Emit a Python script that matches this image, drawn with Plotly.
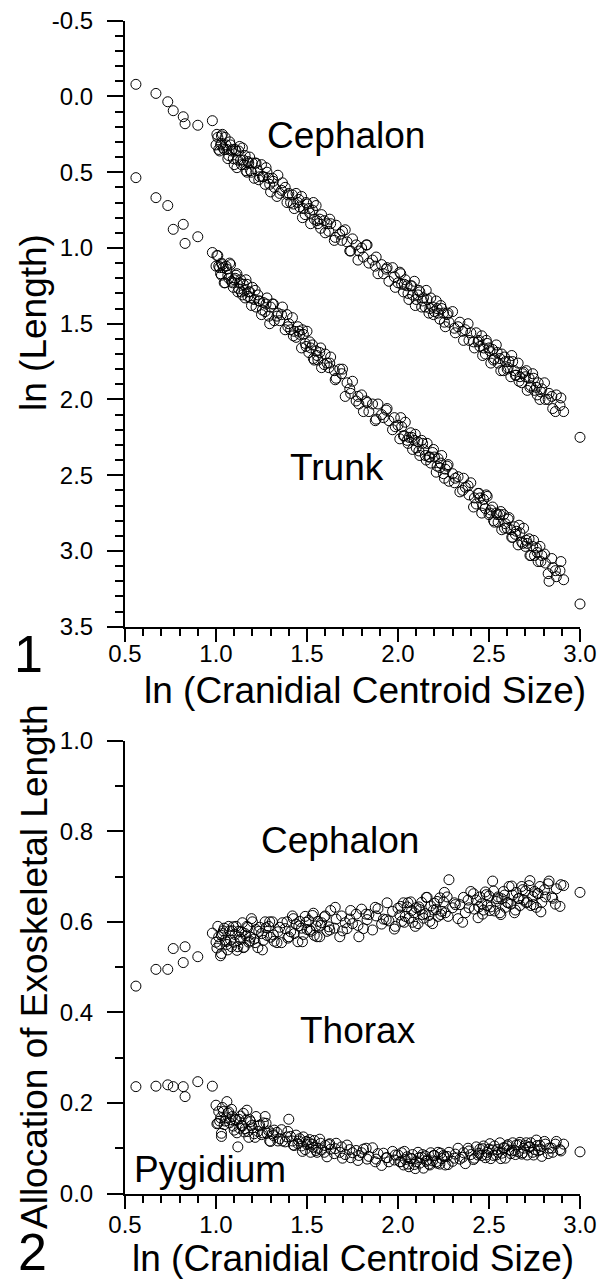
import plotly.graph_objects as go

# ---------------- data ----------------
ln_cs = [
    0.56, 0.67, 0.735, 0.765, 0.82, 0.83, 0.90, 0.98,
    1.00, 1.01, 1.02, 1.03, 1.03, 1.04, 1.05, 1.06, 1.07, 1.08,
    1.09, 1.10, 1.11, 1.12, 1.13, 1.14, 1.15, 1.16, 1.17, 1.18,
    1.19, 1.20, 1.21, 1.22, 1.23, 1.24, 1.25, 1.26, 1.27, 1.28,
    1.29, 1.30, 1.31, 1.32, 1.34, 1.35, 1.36, 1.38, 1.39, 1.40,
    1.41, 1.42, 1.43, 1.44, 1.45, 1.46, 1.47, 1.48, 1.49, 1.50,
    1.51, 1.52, 1.53, 1.54, 1.55, 1.56, 1.57, 1.58, 1.60, 1.61,
    1.62, 1.63, 1.65, 1.66, 1.68, 1.69, 1.71, 1.72, 1.74, 1.75,
    1.77, 1.78, 1.80, 1.81, 1.83, 1.84, 1.86, 1.88, 1.89, 1.91,
    1.92, 1.94, 1.95, 1.97, 1.98, 2.00, 2.01, 2.02, 2.03, 2.04,
    2.05, 2.06, 2.07, 2.08, 2.09, 2.10, 2.11, 2.12, 2.13, 2.14,
    2.15, 2.16, 2.17, 2.18, 2.19, 2.20, 2.21, 2.22, 2.23, 2.24,
    2.25, 2.26, 2.27, 2.28, 2.30, 2.31, 2.33, 2.34, 2.36, 2.37,
    2.39, 2.40, 2.42, 2.43, 2.44, 2.45, 2.46, 2.47, 2.48, 2.49,
    2.50, 2.51, 2.52, 2.53, 2.54, 2.55, 2.56, 2.57, 2.58, 2.59,
    2.60, 2.61, 2.62, 2.63, 2.64, 2.65, 2.66, 2.67, 2.68, 2.69,
    2.70, 2.71, 2.72, 2.73, 2.74, 2.75, 2.76, 2.77, 2.78, 2.79,
    2.81, 2.83, 2.85, 2.87, 2.89, 2.91, 3.00,
    1.005, 1.015, 1.025, 1.035, 1.045, 1.055, 1.065, 1.075, 1.085, 1.095,
    1.105, 1.115, 1.125, 1.135, 1.145, 1.155, 1.165, 1.175, 1.185, 1.195,
    1.215, 1.235, 1.255, 1.275, 1.295, 1.315, 1.335, 1.365, 1.395, 1.425,
    1.455, 1.475, 1.495, 1.515, 1.535, 1.555, 1.575, 1.595, 1.625, 1.655,
    1.695, 1.735, 1.785, 1.825, 1.875, 1.935, 1.985, 2.015, 2.035, 2.055,
    2.075, 2.095, 2.115, 2.135, 2.155, 2.175, 2.195, 2.215, 2.235, 2.255,
    2.275, 2.315, 2.355, 2.385, 2.415, 2.445, 2.465, 2.485, 2.505, 2.525,
    2.545, 2.565, 2.585, 2.605, 2.625, 2.645, 2.665, 2.685, 2.705, 2.725,
    2.745, 2.765, 2.785, 2.805, 2.825, 2.845, 2.865, 2.895,
]

cephalon_ln = [
    -0.08, -0.02, 0.035, 0.094, 0.134, 0.18, 0.19, 0.16,
    0.32, 0.27, 0.36, 0.26, 0.31, 0.34, 0.27, 0.35, 0.39, 0.32,
    0.35, 0.45, 0.36, 0.42, 0.33, 0.45, 0.42, 0.39, 0.50, 0.44,
    0.49, 0.44, 0.54, 0.44, 0.49, 0.53, 0.45, 0.53, 0.58, 0.50,
    0.54, 0.63, 0.54, 0.60, 0.52, 0.64, 0.62, 0.60, 0.70, 0.64,
    0.70, 0.65, 0.74, 0.64, 0.70, 0.73, 0.66, 0.74, 0.78, 0.71,
    0.74, 0.84, 0.75, 0.81, 0.72, 0.84, 0.81, 0.78, 0.90, 0.84,
    0.89, 0.84, 0.95, 0.85, 0.91, 0.95, 0.88, 0.96, 1.02, 0.94,
    0.98, 1.08, 1.00, 1.06, 0.98, 1.10, 1.08, 1.06, 1.17, 1.11,
    1.17, 1.13, 1.22, 1.13, 1.19, 1.23, 1.16, 1.24, 1.29, 1.21,
    1.25, 1.34, 1.25, 1.31, 1.22, 1.34, 1.31, 1.29, 1.39, 1.33,
    1.39, 1.34, 1.43, 1.33, 1.39, 1.42, 1.35, 1.43, 1.47, 1.40,
    1.43, 1.52, 1.44, 1.49, 1.42, 1.53, 1.52, 1.49, 1.61, 1.54,
    1.61, 1.56, 1.66, 1.56, 1.62, 1.65, 1.58, 1.66, 1.70, 1.63,
    1.66, 1.76, 1.67, 1.73, 1.64, 1.76, 1.73, 1.70, 1.81, 1.75,
    1.80, 1.75, 1.85, 1.75, 1.81, 1.84, 1.76, 1.85, 1.89, 1.82,
    1.85, 1.94, 1.86, 1.91, 1.83, 1.94, 1.92, 1.89, 2.00, 1.93,
    2.00, 1.96, 2.06, 1.97, 2.04, 2.08, 2.25,
    0.25, 0.35, 0.32, 0.25, 0.35, 0.32, 0.41, 0.30, 0.36, 0.41,
    0.35, 0.47, 0.36, 0.42, 0.34, 0.45, 0.49, 0.43, 0.40, 0.50,
    0.44, 0.55, 0.53, 0.47, 0.58, 0.56, 0.66, 0.57, 0.65, 0.71,
    0.68, 0.80, 0.70, 0.77, 0.70, 0.82, 0.87, 0.82, 0.81, 0.93,
    0.89, 1.02, 1.02, 0.98, 1.12, 1.14, 1.26, 1.17, 1.24, 1.30,
    1.25, 1.38, 1.28, 1.35, 1.28, 1.40, 1.44, 1.40, 1.38, 1.49,
    1.43, 1.56, 1.55, 1.50, 1.62, 1.61, 1.71, 1.61, 1.68, 1.74,
    1.69, 1.81, 1.72, 1.79, 1.71, 1.84, 1.88, 1.83, 1.81, 1.92,
    1.86, 1.97, 1.95, 1.89, 2.00, 1.98, 2.08, 1.99,
]

trunk_ln = [
    0.536, 0.668, 0.72, 0.877, 0.844, 0.97, 0.926, 1.03,
    1.12, 1.05, 1.13, 1.18, 1.10, 1.13, 1.23, 1.14, 1.20, 1.11,
    1.23, 1.21, 1.18, 1.29, 1.23, 1.29, 1.24, 1.33, 1.24, 1.29,
    1.33, 1.26, 1.34, 1.39, 1.31, 1.35, 1.44, 1.36, 1.42, 1.33,
    1.45, 1.39, 1.37, 1.48, 1.43, 1.48, 1.44, 1.54, 1.44, 1.50,
    1.54, 1.46, 1.55, 1.59, 1.52, 1.57, 1.66, 1.57, 1.63, 1.55,
    1.69, 1.66, 1.64, 1.74, 1.68, 1.74, 1.69, 1.79, 1.70, 1.76,
    1.79, 1.72, 1.81, 1.86, 1.80, 1.83, 1.98, 1.89, 1.96, 1.88,
    2.01, 1.98, 1.97, 2.08, 2.02, 2.08, 2.03, 2.13, 2.03, 2.10,
    2.12, 2.06, 2.14, 2.20, 2.12, 2.17, 2.26, 2.18, 2.24, 2.15,
    2.27, 2.25, 2.22, 2.33, 2.27, 2.32, 2.28, 2.37, 2.27, 2.33,
    2.37, 2.29, 2.38, 2.42, 2.35, 2.38, 2.48, 2.39, 2.45, 2.37,
    2.49, 2.46, 2.44, 2.54, 2.49, 2.55, 2.51, 2.61, 2.52, 2.58,
    2.63, 2.55, 2.65, 2.69, 2.62, 2.65, 2.75, 2.66, 2.72, 2.64,
    2.76, 2.73, 2.71, 2.81, 2.75, 2.81, 2.76, 2.86, 2.76, 2.82,
    2.85, 2.78, 2.86, 2.91, 2.84, 2.87, 2.96, 2.88, 2.94, 2.85,
    2.97, 2.95, 2.92, 3.03, 2.97, 3.03, 2.98, 3.07, 2.97, 3.03,
    3.08, 3.20, 3.11, 3.17, 3.13, 3.19, 3.35,
    1.05, 1.12, 1.17, 1.11, 1.23, 1.12, 1.18, 1.10, 1.22, 1.26,
    1.20, 1.17, 1.27, 1.21, 1.31, 1.28, 1.21, 1.32, 1.29, 1.38,
    1.28, 1.35, 1.41, 1.37, 1.50, 1.37, 1.45, 1.39, 1.52, 1.58,
    1.55, 1.54, 1.65, 1.62, 1.73, 1.71, 1.66, 1.77, 1.76, 1.87,
    1.80, 1.93, 2.03, 2.01, 2.14, 2.07, 2.18, 2.12, 2.24, 2.29,
    2.25, 2.23, 2.34, 2.29, 2.40, 2.38, 2.33, 2.44, 2.42, 2.52,
    2.43, 2.52, 2.60, 2.57, 2.71, 2.62, 2.70, 2.63, 2.75, 2.80,
    2.76, 2.74, 2.85, 2.79, 2.91, 2.89, 2.83, 2.95, 2.93, 3.03,
    2.93, 3.01, 3.07, 3.02, 3.15, 3.05, 3.13, 3.07,
]

upper_alloc = [
    0.458, 0.495, 0.495, 0.541, 0.51, 0.545, 0.523, 0.575,
    0.555, 0.59, 0.55, 0.57, 0.53, 0.58, 0.56, 0.55, 0.59, 0.56,
    0.58, 0.555, 0.59, 0.545, 0.566, 0.578, 0.543, 0.574, 0.59, 0.555,
    0.566, 0.60, 0.562, 0.583, 0.543, 0.588, 0.574, 0.559, 0.60, 0.57,
    0.59, 0.566, 0.60, 0.557, 0.578, 0.588, 0.554, 0.585, 0.60, 0.567,
    0.578, 0.613, 0.574, 0.595, 0.556, 0.601, 0.586, 0.572, 0.612, 0.583,
    0.603, 0.579, 0.614, 0.570, 0.591, 0.601, 0.567, 0.598, 0.613, 0.579,
    0.589, 0.625, 0.586, 0.606, 0.567, 0.613, 0.598, 0.585, 0.625, 0.596,
    0.617, 0.592, 0.628, 0.585, 0.605, 0.616, 0.582, 0.613, 0.629, 0.595,
    0.606, 0.642, 0.602, 0.623, 0.584, 0.630, 0.615, 0.601, 0.642, 0.612,
    0.633, 0.608, 0.644, 0.599, 0.620, 0.631, 0.596, 0.627, 0.643, 0.608,
    0.618, 0.654, 0.614, 0.635, 0.596, 0.641, 0.627, 0.612, 0.653, 0.623,
    0.644, 0.62, 0.655, 0.693, 0.631, 0.642, 0.607, 0.638, 0.654, 0.62,
    0.631, 0.667, 0.628, 0.648, 0.609, 0.655, 0.640, 0.626, 0.666, 0.636,
    0.657, 0.633, 0.69, 0.624, 0.645, 0.655, 0.620, 0.651, 0.667, 0.632,
    0.643, 0.678, 0.639, 0.659, 0.620, 0.665, 0.651, 0.636, 0.678, 0.648,
    0.668, 0.644, 0.680, 0.636, 0.656, 0.667, 0.632, 0.662, 0.678, 0.643,
    0.655, 0.69, 0.652, 0.673, 0.634, 0.68, 0.665,
    0.542, 0.567, 0.525, 0.574, 0.586, 0.556, 0.538, 0.580, 0.545, 0.589,
    0.572, 0.537, 0.579, 0.561, 0.598, 0.544, 0.569, 0.588, 0.558, 0.607,
    0.554, 0.579, 0.538, 0.587, 0.600, 0.571, 0.554, 0.598, 0.564, 0.607,
    0.591, 0.556, 0.599, 0.582, 0.619, 0.567, 0.592, 0.611, 0.582, 0.632,
    0.580, 0.606, 0.567, 0.617, 0.632, 0.605, 0.590, 0.634, 0.599, 0.642,
    0.625, 0.590, 0.633, 0.616, 0.654, 0.601, 0.626, 0.645, 0.616, 0.665,
    0.612, 0.638, 0.599, 0.648, 0.662, 0.633, 0.617, 0.660, 0.625, 0.668,
    0.651, 0.616, 0.659, 0.642, 0.679, 0.626, 0.652, 0.671, 0.642, 0.691,
    0.638, 0.663, 0.622, 0.671, 0.684, 0.655, 0.639, 0.682,
]

lower_alloc = [
    0.236, 0.237, 0.24, 0.236, 0.236, 0.214, 0.247, 0.237,
    0.195, 0.155, 0.16, 0.133, 0.126, 0.181, 0.16, 0.203, 0.18, 0.163,
    0.17, 0.14, 0.163, 0.103, 0.144, 0.15, 0.177, 0.143, 0.184, 0.124,
    0.159, 0.145, 0.132, 0.17, 0.137, 0.151, 0.13, 0.156, 0.17, 0.133,
    0.138, 0.115, 0.132, 0.14, 0.116, 0.121, 0.141, 0.114, 0.125, 0.164,
    0.126, 0.116, 0.106, 0.129, 0.11, 0.121, 0.105, 0.125, 0.097, 0.108,
    0.113, 0.091, 0.109, 0.117, 0.095, 0.10, 0.12, 0.096, 0.106, 0.081,
    0.108, 0.098, 0.088, 0.111, 0.091, 0.103, 0.086, 0.107, 0.079, 0.09,
    0.095, 0.073, 0.09, 0.098, 0.076, 0.082, 0.101, 0.076, 0.088, 0.062,
    0.089, 0.079, 0.07, 0.093, 0.074, 0.085, 0.07, 0.09, 0.063, 0.075,
    0.081, 0.059, 0.077, 0.086, 0.064, 0.07, 0.091, 0.067, 0.08, 0.056,
    0.083, 0.074, 0.065, 0.09, 0.072, 0.084, 0.07, 0.091, 0.065, 0.077,
    0.084, 0.063, 0.082, 0.091, 0.071, 0.078, 0.10, 0.076, 0.09, 0.066,
    0.094, 0.086, 0.078, 0.103, 0.085, 0.098, 0.084, 0.105, 0.079, 0.091,
    0.098, 0.077, 0.096, 0.105, 0.085, 0.091, 0.112, 0.089, 0.101, 0.078,
    0.105, 0.096, 0.088, 0.112, 0.095, 0.107, 0.092, 0.113, 0.087, 0.10,
    0.106, 0.085, 0.103, 0.112, 0.091, 0.097, 0.118, 0.094, 0.106, 0.082,
    0.109, 0.10, 0.091, 0.115, 0.097, 0.109, 0.092,
    0.154, 0.181, 0.167, 0.19, 0.152, 0.167, 0.177, 0.156, 0.186, 0.149,
    0.163, 0.134, 0.164, 0.171, 0.149, 0.136, 0.162, 0.137, 0.163, 0.15,
    0.124, 0.149, 0.134, 0.155, 0.116, 0.128, 0.135, 0.116, 0.137, 0.107,
    0.116, 0.093, 0.115, 0.119, 0.102, 0.091, 0.111, 0.091, 0.11, 0.099,
    0.078, 0.097, 0.084, 0.10, 0.07, 0.079, 0.085, 0.07, 0.093, 0.065,
    0.077, 0.055, 0.079, 0.086, 0.071, 0.063, 0.084, 0.067, 0.089, 0.081,
    0.064, 0.087, 0.08, 0.10, 0.075, 0.089, 0.099, 0.085, 0.11, 0.084,
    0.097, 0.077, 0.101, 0.108, 0.094, 0.086, 0.108, 0.09, 0.112, 0.103,
    0.085, 0.106, 0.097, 0.115, 0.088, 0.10, 0.109, 0.094,
]

x_ticks = [0.5, 1.0, 1.5, 2.0, 2.5, 3.0]
x_tick_text = ["0.5", "1.0", "1.5", "2.0", "2.5", "3.0"]
y1_ticks = [-0.5, 0.0, 0.5, 1.0, 1.5, 2.0, 2.5, 3.0, 3.5]
y1_tick_text = ["-0.5", "0.0", "0.5", "1.0", "1.5", "2.0", "2.5", "3.0", "3.5"]
y2_ticks = [0.0, 0.2, 0.4, 0.6, 0.8, 1.0]
y2_tick_text = ["0.0", "0.2", "0.4", "0.6", "0.8", "1.0"]

# ---------------- layout helpers ----------------
W, H = 605, 1282
FONT = "Liberation Sans, Arial, Helvetica, sans-serif"


def fx(p):
    return p / W


def fy(p):
    return 1 - p / H


marker = dict(symbol="circle-open", size=10, color="black",
              line=dict(width=1, color="black"))

fig = go.Figure()
for yvals, xa, ya in [(cephalon_ln, "x", "y"), (trunk_ln, "x", "y"),
                      (upper_alloc, "x2", "y2"), (lower_alloc, "x2", "y2")]:
    fig.add_trace(go.Scatter(x=ln_cs, y=yvals, mode="markers", marker=marker,
                             xaxis=xa, yaxis=ya, cliponaxis=False,
                             showlegend=False, hoverinfo="skip"))

axis_common = dict(showline=True, linecolor="black", linewidth=2,
                   ticks="outside", tickcolor="black", tickwidth=2,
                   showgrid=False, zeroline=False, mirror=False,
                   automargin=False,
                   tickfont=dict(family=FONT, size=24, color="black"))

xdom = [fx(125), fx(580)]
xaxis_common = dict(axis_common, domain=xdom, range=[0.5, 3.0],
                    tickvals=x_ticks, ticktext=x_tick_text, ticklen=13,
                    minor=dict(dtick=0.1, tick0=0.5, ticklen=7, tickwidth=2,
                               tickcolor="black", ticks="outside"))

fig.update_layout(
    template="none",
    width=W, height=H,
    margin=dict(l=0, r=0, t=0, b=0, pad=0),
    paper_bgcolor="white", plot_bgcolor="white",
    xaxis=dict(xaxis_common, anchor="y", ticklabelstandoff=-9),
    yaxis=dict(axis_common, anchor="x", domain=[fy(626.7), fy(20.7)],
               range=[3.5, -0.5], tickvals=y1_ticks, ticktext=y1_tick_text,
               ticklen=16, ticklabelstandoff=9,
               minor=dict(dtick=0.1, tick0=0, ticklen=8, tickwidth=2,
                          tickcolor="black", ticks="outside")),
    xaxis2=dict(xaxis_common, anchor="y2", ticklabelstandoff=-4),
    yaxis2=dict(axis_common, anchor="x2", domain=[fy(1193.5), fy(740.7)],
                range=[0, 1.0], tickvals=y2_ticks, ticktext=y2_tick_text,
                ticklen=16, ticklabelstandoff=9,
                minor=dict(dtick=0.1, tick0=0, ticklen=8, tickwidth=2,
                           tickcolor="black", ticks="outside")),
)

big = dict(family=FONT, size=37, color="black")
texts = [
    ("Cephalon", 346, 135, 0),
    ("Trunk", 337, 467, 0),
    ("Cephalon", 340, 840, 0),
    ("Thorax", 358, 1030, 0),
    ("Pygidium", 210, 1169, 0),
    ("ln (Cranidial Centroid Size)", 365, 690, 0),
    ("ln (Cranidial Centroid Size)", 353, 1258, 0),
    ("ln (Length)", 34, 323, -90),
    ("Allocation of Exoskeletal Length", 34, 967, -90),
]
for t, x, y, ang in texts:
    fig.add_annotation(text=t, x=fx(x), y=fy(y), xref="paper", yref="paper",
                       xanchor="center", yanchor="middle", showarrow=False,
                       textangle=ang, font=big)
for t, x, y in [("1", 28, 654), ("2", 32, 1252)]:
    fig.add_annotation(text=t, x=fx(x), y=fy(y), xref="paper", yref="paper",
                       xanchor="center", yanchor="middle", showarrow=False,
                       borderpad=0,
                       font=dict(family=FONT, size=52, color="black"))

# the page's default 8px body margin would shift the fixed-size figure
fig.write_html("out.html",
               config={"displayModeBar": False, "staticPlot": True},
               post_script="document.body.style.margin='0px';"
                           "document.body.style.overflow='hidden';")
